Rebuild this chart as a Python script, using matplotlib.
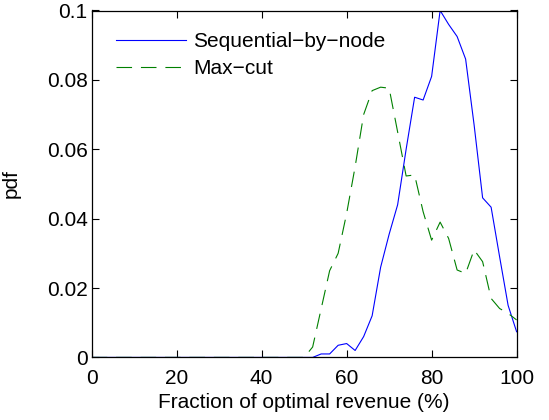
import matplotlib
matplotlib.use("Agg")
import matplotlib.pyplot as plt

plt.rcParams['font.family'] = ['Liberation Sans', 'DejaVu Sans']

# Fraction of optimal revenue (%), sampled every 2
x_vals = list(range(0, 101, 2))

# Sequential-by-node pdf
seq_tail = [0.0, 0.001, 0.001, 0.0035, 0.004, 0.002, 0.006, 0.012, 0.026, 0.0355,
            0.044, 0.060, 0.075, 0.0742, 0.081, 0.100, 0.096, 0.0925, 0.086, 0.067,
            0.046, 0.0433, 0.029, 0.015, 0.0074]
seq_pdf = [0.0] * (len(x_vals) - len(seq_tail)) + seq_tail

# Max-cut pdf
cut_tail = [0.003, 0.014, 0.025, 0.030, 0.0415, 0.055, 0.070, 0.0769, 0.0779, 0.0776,
            0.065, 0.0523, 0.0526, 0.042, 0.0338, 0.039, 0.0343, 0.0252, 0.0242, 0.031,
            0.0276, 0.017, 0.0141, 0.0127, 0.0108]
cut_pdf = [0.0] * (len(x_vals) - len(cut_tail)) + cut_tail

fig = plt.figure(figsize=(5.49, 4.2), dpi=100)
ax = fig.add_axes([0.167, 0.149, 0.774, 0.826])

ax.plot(x_vals, seq_pdf, color='#0000ff', linewidth=0.8, label='Sequential\u2212by\u2212node')
ax.plot(x_vals, cut_pdf, color='#008000', linewidth=0.8, linestyle=(0, (14, 8)), label='Max\u2212cut')

ax.set_xlim(0, 100)
ax.set_ylim(0, 0.1)
ax.set_xticks([0, 20, 40, 60, 80, 100])
ax.set_yticks([0, 0.02, 0.04, 0.06, 0.08, 0.1])
ax.set_yticklabels(['0', '0.02', '0.04', '0.06', '0.08', '0.1'])
ax.tick_params(direction='in', top=True, right=True, labelsize=15, length=5, width=0.8, pad=3)
ax.tick_params(axis='x', pad=8)
for s in ax.spines.values():
    s.set_linewidth(0.9)

ax.set_xlabel('Fraction of optimal revenue (%)', fontsize=15, labelpad=4)
ax.set_ylabel('pdf', fontsize=15, labelpad=19)

ax.legend(loc='upper left', frameon=False, fontsize=15, handlelength=3.35,
          handletextpad=0.35, borderaxespad=0.0, labelspacing=0.4,
          bbox_to_anchor=(0.038, 0.962))

fig.savefig('out.png', dpi=100)
